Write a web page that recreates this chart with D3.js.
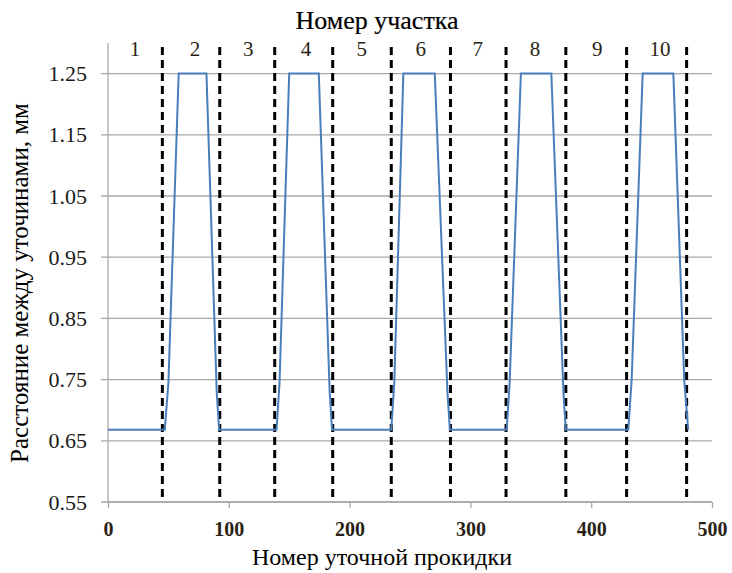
<!DOCTYPE html>
<html>
<head>
<meta charset="utf-8">
<script src="https://cdn.jsdelivr.net/npm/d3@7"></script>
<style>
  body { margin: 0; background: #fff; }
  svg text { font-family: "Liberation Serif", "Times New Roman", serif; }
</style>
</head>
<body>
<svg id="chart" width="732" height="573"></svg>
<script>
// pick number (x) and spacing between picks, mm (y)
let picks = [0, 47, 50, 58.5, 81.5, 90, 92,
             139.5, 142, 150, 174.5, 183.5, 185.5,
             234.5, 237, 244.5, 270.5, 281, 283,
             330, 332.5, 341.8, 367, 377, 379,
             430.7, 433.5, 442.6, 468, 477, 480.3];
let spacing = [0.668, 0.668, 0.745, 1.25, 1.25, 0.73, 0.668,
               0.668, 0.745, 1.25, 1.25, 0.73, 0.668,
               0.668, 0.745, 1.25, 1.25, 0.73, 0.668,
               0.668, 0.745, 1.25, 1.25, 0.73, 0.668,
               0.668, 0.75, 1.25, 1.25, 0.75, 0.668];

// section boundaries and labels
let boundaries = [45, 92.5, 138, 186, 234.5, 283.5, 329.5, 379, 429.3, 479];
let sectionNames = ["1", "2", "3", "4", "5", "6", "7", "8", "9", "10"];
let sectionPos = [22.4, 72, 116, 164, 210, 259, 306, 353.5, 405, 457];

let xTicks = [0, 100, 200, 300, 400, 500];
let yTicks = [0.55, 0.65, 0.75, 0.85, 0.95, 1.05, 1.15, 1.25];

let chart = d3.select("#chart");
let plotLeft = 108, plotRight = 712, plotTop = 43, plotBottom = 502;

let x = d3.scaleLinear().domain([0, 500]).range([plotLeft, plotRight]);
let y = d3.scaleLinear().domain([0.55, 1.30]).range([plotBottom, plotTop]);

// gridlines
chart.append("g")
    .selectAll("line")
    .data(yTicks)
    .enter()
    .append("line")
    .attr("x1", plotLeft - 7)
    .attr("x2", plotRight)
    .attr("y1", d => y(d))
    .attr("y2", d => y(d))
    .attr("stroke", "#a8a8a8")
    .attr("stroke-width", 1.3);

// y axis
let yAxis = chart.append("g")
    .attr("transform", "translate(" + plotLeft + ",0)")
    .call(d3.axisLeft(y).tickValues(yTicks).tickFormat(d3.format(".2f")).tickSize(7).tickPadding(14));
yAxis.select(".domain").attr("stroke", "#a8a8a8").attr("stroke-width", 1.3).attr("d", "M0," + plotTop + "V" + plotBottom);
yAxis.selectAll(".tick line").attr("stroke", "none");
yAxis.selectAll("text")
    .style("font-size", "22px")
    .attr("fill", "#1a1a1a");

// x axis
let xAxis = chart.append("g")
    .attr("transform", "translate(0," + plotBottom + ")")
    .call(d3.axisBottom(x).tickValues(xTicks).tickSize(6).tickPadding(14));
xAxis.select(".domain").attr("stroke", "#a8a8a8").attr("stroke-width", 1.3).attr("d", "M" + plotLeft + ",0H" + plotRight);
xAxis.selectAll(".tick line").attr("stroke", "#a8a8a8").attr("stroke-width", 1.3);
xAxis.selectAll("text")
    .style("font-size", "20px")
    .style("font-weight", "bold")
    .attr("fill", "#2a1f14");

// section boundaries
chart.append("g")
    .selectAll("line")
    .data(boundaries)
    .enter()
    .append("line")
    .attr("x1", d => x(d))
    .attr("x2", d => x(d))
    .attr("y1", plotTop + 4)
    .attr("y2", plotBottom)
    .attr("stroke", "#000")
    .attr("stroke-width", 3)
    .attr("stroke-dasharray", "8,5");

// spacing line
let line = d3.line()
    .x((d, i) => x(picks[i]))
    .y(d => y(d));

chart.append("path")
    .datum(spacing)
    .attr("d", line)
    .attr("fill", "none")
    .attr("stroke", "#4a7ebb")
    .attr("stroke-width", 2);

// section numbers
chart.selectAll("sectionlabels")
    .data(sectionNames)
    .enter()
    .append("text")
    .attr("x", (d, i) => x(sectionPos[i]))
    .attr("y", 56)
    .attr("text-anchor", "middle")
    .style("font-size", "21px")
    .attr("fill", "#2a1f14")
    .text(d => d);

// titles
chart.append("text")
    .attr("x", 377)
    .attr("y", 29)
    .attr("text-anchor", "middle")
    .style("font-size", "26px")
    .attr("fill", "#000")
    .attr("stroke", "#000")
    .attr("stroke-width", 0.2)
    .text("Номер участка");

chart.append("text")
    .attr("x", 382)
    .attr("y", 565)
    .attr("text-anchor", "middle")
    .style("font-size", "24px")
    .attr("fill", "#000")
    .text("Номер уточной прокидки");

chart.append("text")
    .attr("transform", "translate(28,283) rotate(-90)")
    .attr("text-anchor", "middle")
    .style("font-size", "25px")
    .attr("fill", "#000")
    .text("Расстояние между уточинами, мм");
</script>
</body>
</html>
